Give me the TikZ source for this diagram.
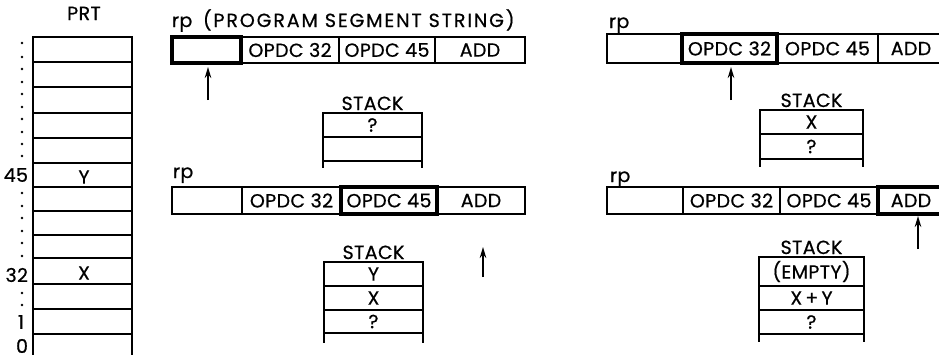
\documentclass[tikz,border=0pt]{standalone}
\usepackage{fontspec}
\setmainfont{Poppins}[LetterSpace=2,FakeBold=0.6]
\newfontfamily\titlefont{Poppins}[LetterSpace=10,FakeBold=0.6]
\usetikzlibrary{arrows.meta}
\begin{document}
\begin{tikzpicture}[x=1pt,y=-1pt,
  lw/.style={line width=1.4pt},
  fnt/.style={font=\fontsize{19}{19}\selectfont},
  box/.style={draw,lw,rectangle,inner sep=0pt,outer sep=0pt,fnt},
  bold/.style={draw,line width=3.4pt,rectangle,inner sep=0pt,outer sep=0pt,fnt},
  txt/.style={inner sep=0pt,outer sep=0pt,fnt},
  ptr/.style={line width=1.8pt,-{Stealth[length=11pt,width=6.5pt]}},
  dot/.style={circle,fill,inner sep=0pt,minimum size=2.8pt}]
\useasboundingbox (0,0) rectangle (939,354);
\clip (0,0) rectangle (939,354);
\fill[white] (0,0) rectangle (939,354);

% ---------------- PRT ----------------
\node[txt,anchor=base] (prt) at (84,20) {PRT};
\node[box,minimum width=99pt,minimum height=25pt] (r1) at (82.5,49.5) {};
\node[box,minimum width=99pt,minimum height=25pt] (r2) at (82.5,74.5) {};
\node[box,minimum width=99pt,minimum height=26pt] (r3) at (82.5,100) {};
\node[box,minimum width=99pt,minimum height=25pt] (r4) at (82.5,125.5) {};
\node[box,minimum width=99pt,minimum height=25pt] (r5) at (82.5,150.5) {};
\node[box,minimum width=99pt,minimum height=24pt] (r6) at (82.5,175) {};
\node[box,minimum width=99pt,minimum height=24pt] (r7) at (82.5,199) {};
\node[box,minimum width=99pt,minimum height=24pt] (r8) at (82.5,223) {};
\node[box,minimum width=99pt,minimum height=23pt] (r9) at (82.5,246.5) {};
\node[box,minimum width=99pt,minimum height=26pt] (r10) at (82.5,271) {};
\node[box,minimum width=99pt,minimum height=25pt] (r11) at (82.5,296.5) {};
\node[box,minimum width=99pt,minimum height=25pt] (r12) at (82.5,321.5) {};
\draw[lw] (r12.south west) -- ++(0,25);
\draw[lw] (r12.south east) -- ++(0,25);
\node[txt] (vy) at (84,177) {Y};
\node[txt] (vx) at (84,273) {X};
\node[txt,anchor=east] (l45) at (28,175) {45};
\node[txt,anchor=east] (l32) at (28,275) {32};
\node[txt,anchor=east] (l1) at (24,322) {1};
\node[txt,anchor=east] (l0) at (28,346) {0};
\foreach \yy [count=\i] in {43,57,69,82,94,107,119,132,144,156,193,206,218,231,243,256,293,305}
  \node[dot] (d\i) at (22,\yy) {};

% ---------------- Panel 1 ----------------
\node[txt,anchor=base west] (rp1) at (172,27) {rp};
\node[txt,anchor=base west,font=\fontsize{19}{19}\titlefont] (title) at (203,27) {(PROGRAM SEGMENT STRING)};
\node[box,minimum width=98pt,minimum height=26pt] (a2) at (290,50) {OPDC 32};
\node[box,minimum width=96pt,minimum height=26pt] (a3) at (387,50) {OPDC 45};
\node[box,minimum width=90pt,minimum height=26pt] (a4) at (480,50) {ADD};
\node[bold,minimum width=69pt,minimum height=26pt] (a1) at (206.5,50) {};
\coordinate (pa0) at (208,100);
\coordinate (pa1) at (208,67);
\draw[ptr] (pa0) -- (pa1);
\node[txt,anchor=base] (sa) at (372.5,110) {STACK};
\node[box,minimum width=99pt,minimum height=24pt] (sa1) at (372.5,125) {?};
\node[box,minimum width=99pt,minimum height=24pt] (sa2) at (372.5,149) {};
\draw[lw] (sa2.south west) -- ++(0,7);
\draw[lw] (sa2.south east) -- ++(0,7);

% ---------------- Panel 2 ----------------
\node[txt,anchor=base west] (rp2) at (609,28) {rp};
\node[box,minimum width=75pt,minimum height=29pt] (b1) at (644.5,48.5) {};
\node[box,minimum width=101pt,minimum height=29pt] (b3) at (827.5,48.5) {OPDC 45};
\node[box,minimum width=66pt,minimum height=29pt] (b4) at (911,48.5) {ADD};
\node[bold,minimum width=95pt,minimum height=29pt] (b2) at (729.5,48.5) {OPDC 32};
\coordinate (pb0) at (731,100);
\coordinate (pb1) at (731,67);
\draw[ptr] (pb0) -- (pb1);
\node[txt,anchor=base] (sb) at (811.5,107) {STACK};
\node[box,minimum width=103pt,minimum height=24pt] (sb1) at (811.5,122) {X};
\node[box,minimum width=103pt,minimum height=25pt] (sb2) at (811.5,146.5) {?};
\draw[lw] (sb2.south west) -- ++(0,8);
\draw[lw] (sb2.south east) -- ++(0,8);

% ---------------- Panel 3 ----------------
\node[txt,anchor=base west] (rp3) at (173,178) {rp};
\node[box,minimum width=70pt,minimum height=27pt] (c1) at (207,200.5) {};
\node[box,minimum width=99pt,minimum height=27pt] (c2) at (291.5,200.5) {OPDC 32};
\node[box,minimum width=88pt,minimum height=27pt] (c4) at (481,200.5) {ADD};
\node[bold,minimum width=96pt,minimum height=27pt] (c3) at (389,200.5) {OPDC 45};
\coordinate (pc0) at (483,277);
\coordinate (pc1) at (483,247);
\draw[ptr] (pc0) -- (pc1);
\node[txt,anchor=base] (sc) at (373.5,259) {STACK};
\node[box,minimum width=99pt,minimum height=24pt] (sc1) at (373.5,274) {Y};
\node[box,minimum width=99pt,minimum height=24pt] (sc2) at (373.5,298) {X};
\node[box,minimum width=99pt,minimum height=23pt] (sc3) at (373.5,321.5) {?};
\draw[lw] (sc3.south west) -- ++(0,10);
\draw[lw] (sc3.south east) -- ++(0,10);

% ---------------- Panel 4 ----------------
\node[txt,anchor=base west] (rp4) at (610,182) {rp};
\node[box,minimum width=76pt,minimum height=27pt] (e1) at (645,200.5) {};
\node[box,minimum width=97pt,minimum height=27pt] (e2) at (731.5,200.5) {OPDC 32};
\node[box,minimum width=98pt,minimum height=27pt] (e3) at (829,200.5) {OPDC 45};
\node[bold,minimum width=66pt,minimum height=27pt] (e4) at (911,200.5) {ADD};
\coordinate (pe0) at (918,249);
\coordinate (pe1) at (918,216);
\draw[ptr] (pe0) -- (pe1);
\node[txt,anchor=base] (se) at (811.5,254) {STACK};
\node[box,minimum width=105pt,minimum height=29pt] (se1) at (811.5,271.5) {(EMPTY)};
\node[box,minimum width=105pt,minimum height=24pt] (se2) at (811.5,298) {X\,+\,Y};
\node[box,minimum width=105pt,minimum height=24pt] (se3) at (811.5,322) {?};
\draw[lw] (se3.south west) -- ++(0,8);
\draw[lw] (se3.south east) -- ++(0,8);
\end{tikzpicture}
\end{document}
